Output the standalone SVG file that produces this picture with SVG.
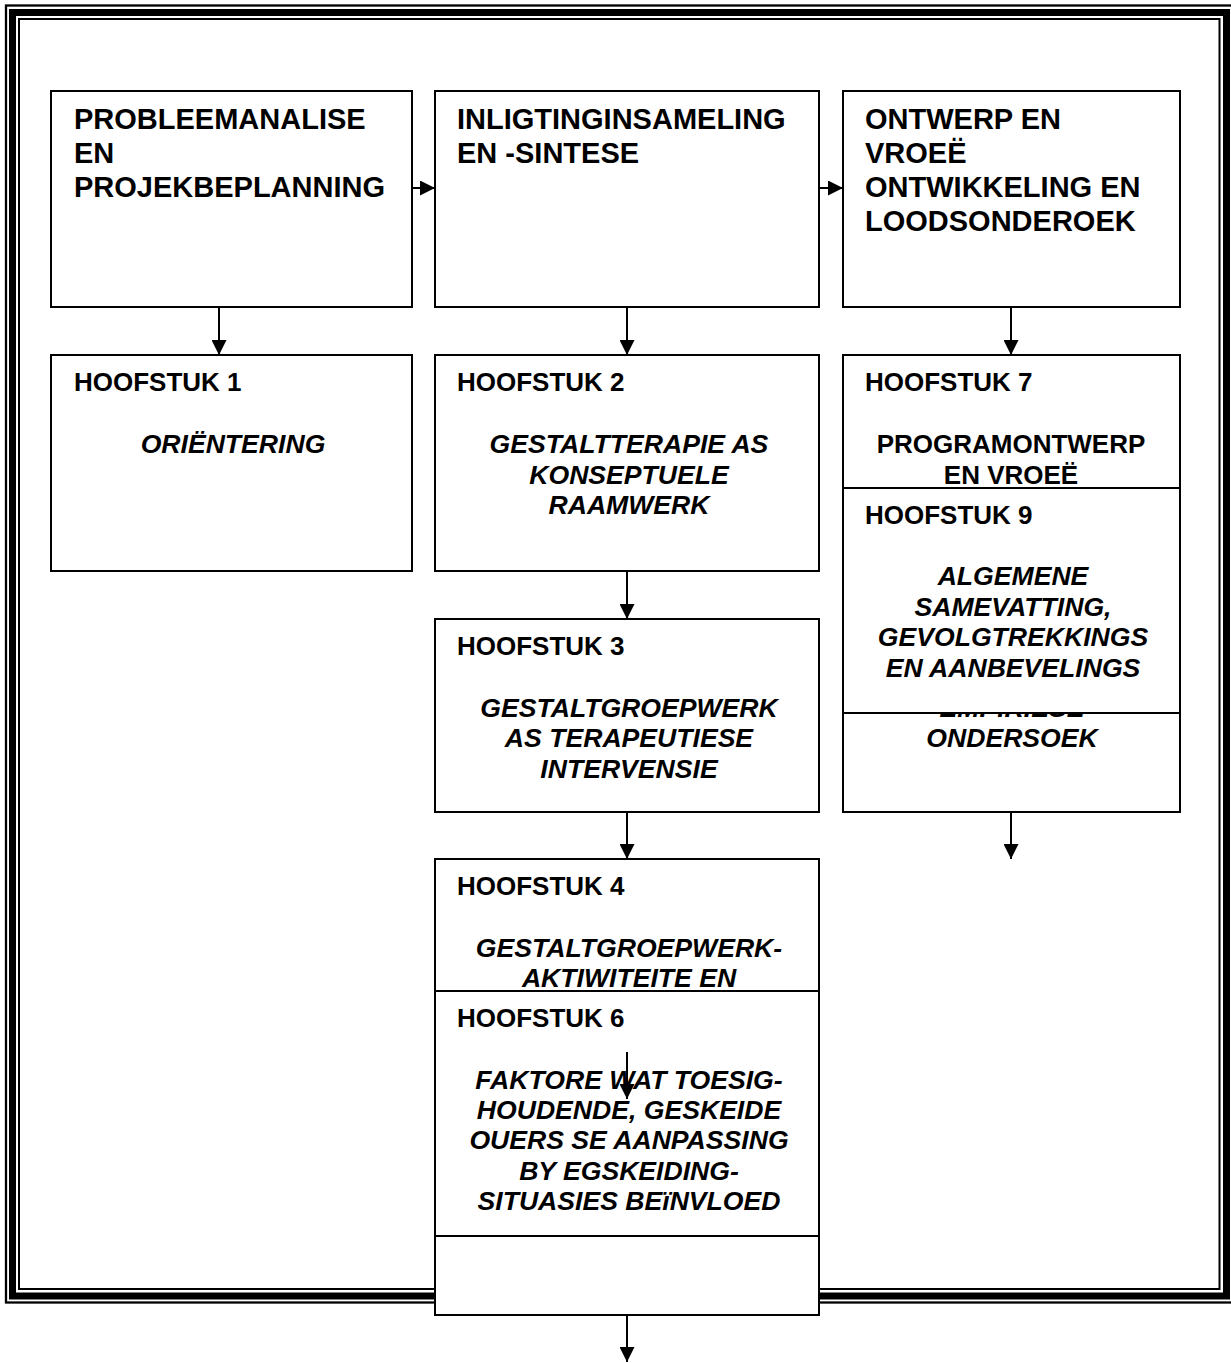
<svg xmlns="http://www.w3.org/2000/svg" width="1231" height="1363" viewBox="0 0 1231 1363">
<style>
.box{fill:#fff;stroke:#000;stroke-width:2}
.t{font-family:"Liberation Sans",Arial,sans-serif;font-weight:bold;fill:#000}
.ti{font-size:29px}
.h{font-size:26px}
.i{font-size:26.6px;font-style:italic;text-anchor:middle}
.u{font-size:26px;text-anchor:middle}
.c{stroke:#000;stroke-width:2;fill:none;marker-end:url(#ah)}
</style>
<defs>
<marker id="ah" markerUnits="userSpaceOnUse" markerWidth="15" markerHeight="15" refX="15" refY="7.5" orient="auto">
<path d="M0,0 L15,7.5 L0,15 z" fill="#000"/>
</marker>
</defs>
<rect width="1231" height="1363" fill="#fff"/>
<g id="border" fill="none" stroke="#000">
<rect x="6" y="5.5" width="1228" height="1297" stroke-width="2.3"/>
<rect x="12.5" y="12.5" width="1214" height="1283.5" stroke-width="7"/>
<rect x="19" y="19" width="1200.5" height="1270" stroke-width="2"/>
</g>
<g id="n-probleem">
<rect class="box" x="51" y="91" width="361" height="216"/>
<text class="t ti" x="74" y="129">PROBLEEMANALISE</text>
<text class="t ti" x="74" y="163">EN</text>
<text class="t ti" x="74" y="197">PROJEKBEPLANNING</text>
</g>
<g id="n-inligting">
<rect class="box" x="435" y="91" width="384" height="216"/>
<text class="t ti" x="457" y="129">INLIGTINGINSAMELING</text>
<text class="t ti" x="457" y="163">EN -SINTESE</text>
</g>
<g id="n-ontwerp">
<rect class="box" x="843" y="91" width="337" height="216"/>
<text class="t ti" x="865" y="129">ONTWERP EN</text>
<text class="t ti" x="865" y="163">VROEË</text>
<text class="t ti" x="865" y="197">ONTWIKKELING EN</text>
<text class="t ti" x="865" y="231">LOODSONDEROEK</text>
</g>
<g id="n-h1">
<rect class="box" x="51" y="355" width="361" height="216"/>
<text class="t h" x="74" y="391">HOOFSTUK 1</text>
<text class="t i" x="233" y="453">ORIËNTERING</text>
</g>
<g id="n-h2">
<rect class="box" x="435" y="355" width="384" height="216"/>
<text class="t h" x="457" y="391">HOOFSTUK 2</text>
<text class="t i" x="629" y="453">GESTALTTERAPIE AS</text>
<text class="t i" x="629" y="484">KONSEPTUELE</text>
<text class="t i" x="629" y="514">RAAMWERK</text>
</g>
<g id="n-h7">
<rect class="box" x="843" y="355" width="337" height="457"/>
<text class="t h" x="865" y="391">HOOFSTUK 7</text>
<text class="t u" x="1011" y="453">PROGRAMONTWERP</text>
<text class="t u" x="1011" y="484">EN VROEË</text>
<text class="t i" x="1012" y="717">EMPIRIESE</text>
<text class="t i" x="1012" y="747">ONDERSOEK</text>
</g>
<g id="n-h9">
<rect class="box" x="843" y="488" width="337" height="225"/>
<text class="t h" x="865" y="524">HOOFSTUK 9</text>
<text class="t i" x="1013" y="585">ALGEMENE</text>
<text class="t i" x="1013" y="616">SAMEVATTING,</text>
<text class="t i" x="1013" y="646">GEVOLGTREKKINGS</text>
<text class="t i" x="1013" y="677">EN AANBEVELINGS</text>
</g>
<g id="n-h3">
<rect class="box" x="435" y="619" width="384" height="193"/>
<text class="t h" x="457" y="655">HOOFSTUK 3</text>
<text class="t i" x="629" y="717">GESTALTGROEPWERK</text>
<text class="t i" x="629" y="747">AS TERAPEUTIESE</text>
<text class="t i" x="629" y="778">INTERVENSIE</text>
</g>
<g id="n-h4">
<rect class="box" x="435" y="859" width="384" height="456"/>
<text class="t h" x="457" y="895">HOOFSTUK 4</text>
<text class="t i" x="629" y="957">GESTALTGROEPWERK-</text>
<text class="t i" x="629" y="987">AKTIWITEITE EN</text>
</g>
<g id="n-h6">
<rect class="box" x="435" y="991" width="384" height="245"/>
<text class="t h" x="457" y="1027">HOOFSTUK 6</text>
<text class="t i" x="629" y="1089">FAKTORE WAT TOESIG-</text>
<text class="t i" x="629" y="1119">HOUDENDE, GESKEIDE</text>
<text class="t i" x="629" y="1149">OUERS SE AANPASSING</text>
<text class="t i" x="629" y="1180">BY EGSKEIDING-</text>
<text class="t i" x="629" y="1210">SITUASIES BEïNVLOED</text>
</g>
<g id="connectors">
<line class="c" x1="412" y1="188" x2="435" y2="188"/>
<line class="c" x1="819" y1="188" x2="843" y2="188"/>
<line class="c" x1="219" y1="307" x2="219" y2="355"/>
<line class="c" x1="627" y1="307" x2="627" y2="355"/>
<line class="c" x1="1011" y1="307" x2="1011" y2="355"/>
<line class="c" x1="627" y1="571" x2="627" y2="619"/>
<line class="c" x1="627" y1="812" x2="627" y2="859"/>
<line class="c" x1="1011" y1="812" x2="1011" y2="859"/>
<line class="c" x1="627" y1="1052" x2="627" y2="1099"/>
<line class="c" x1="627" y1="1315" x2="627" y2="1362"/>
</g>
</svg>
